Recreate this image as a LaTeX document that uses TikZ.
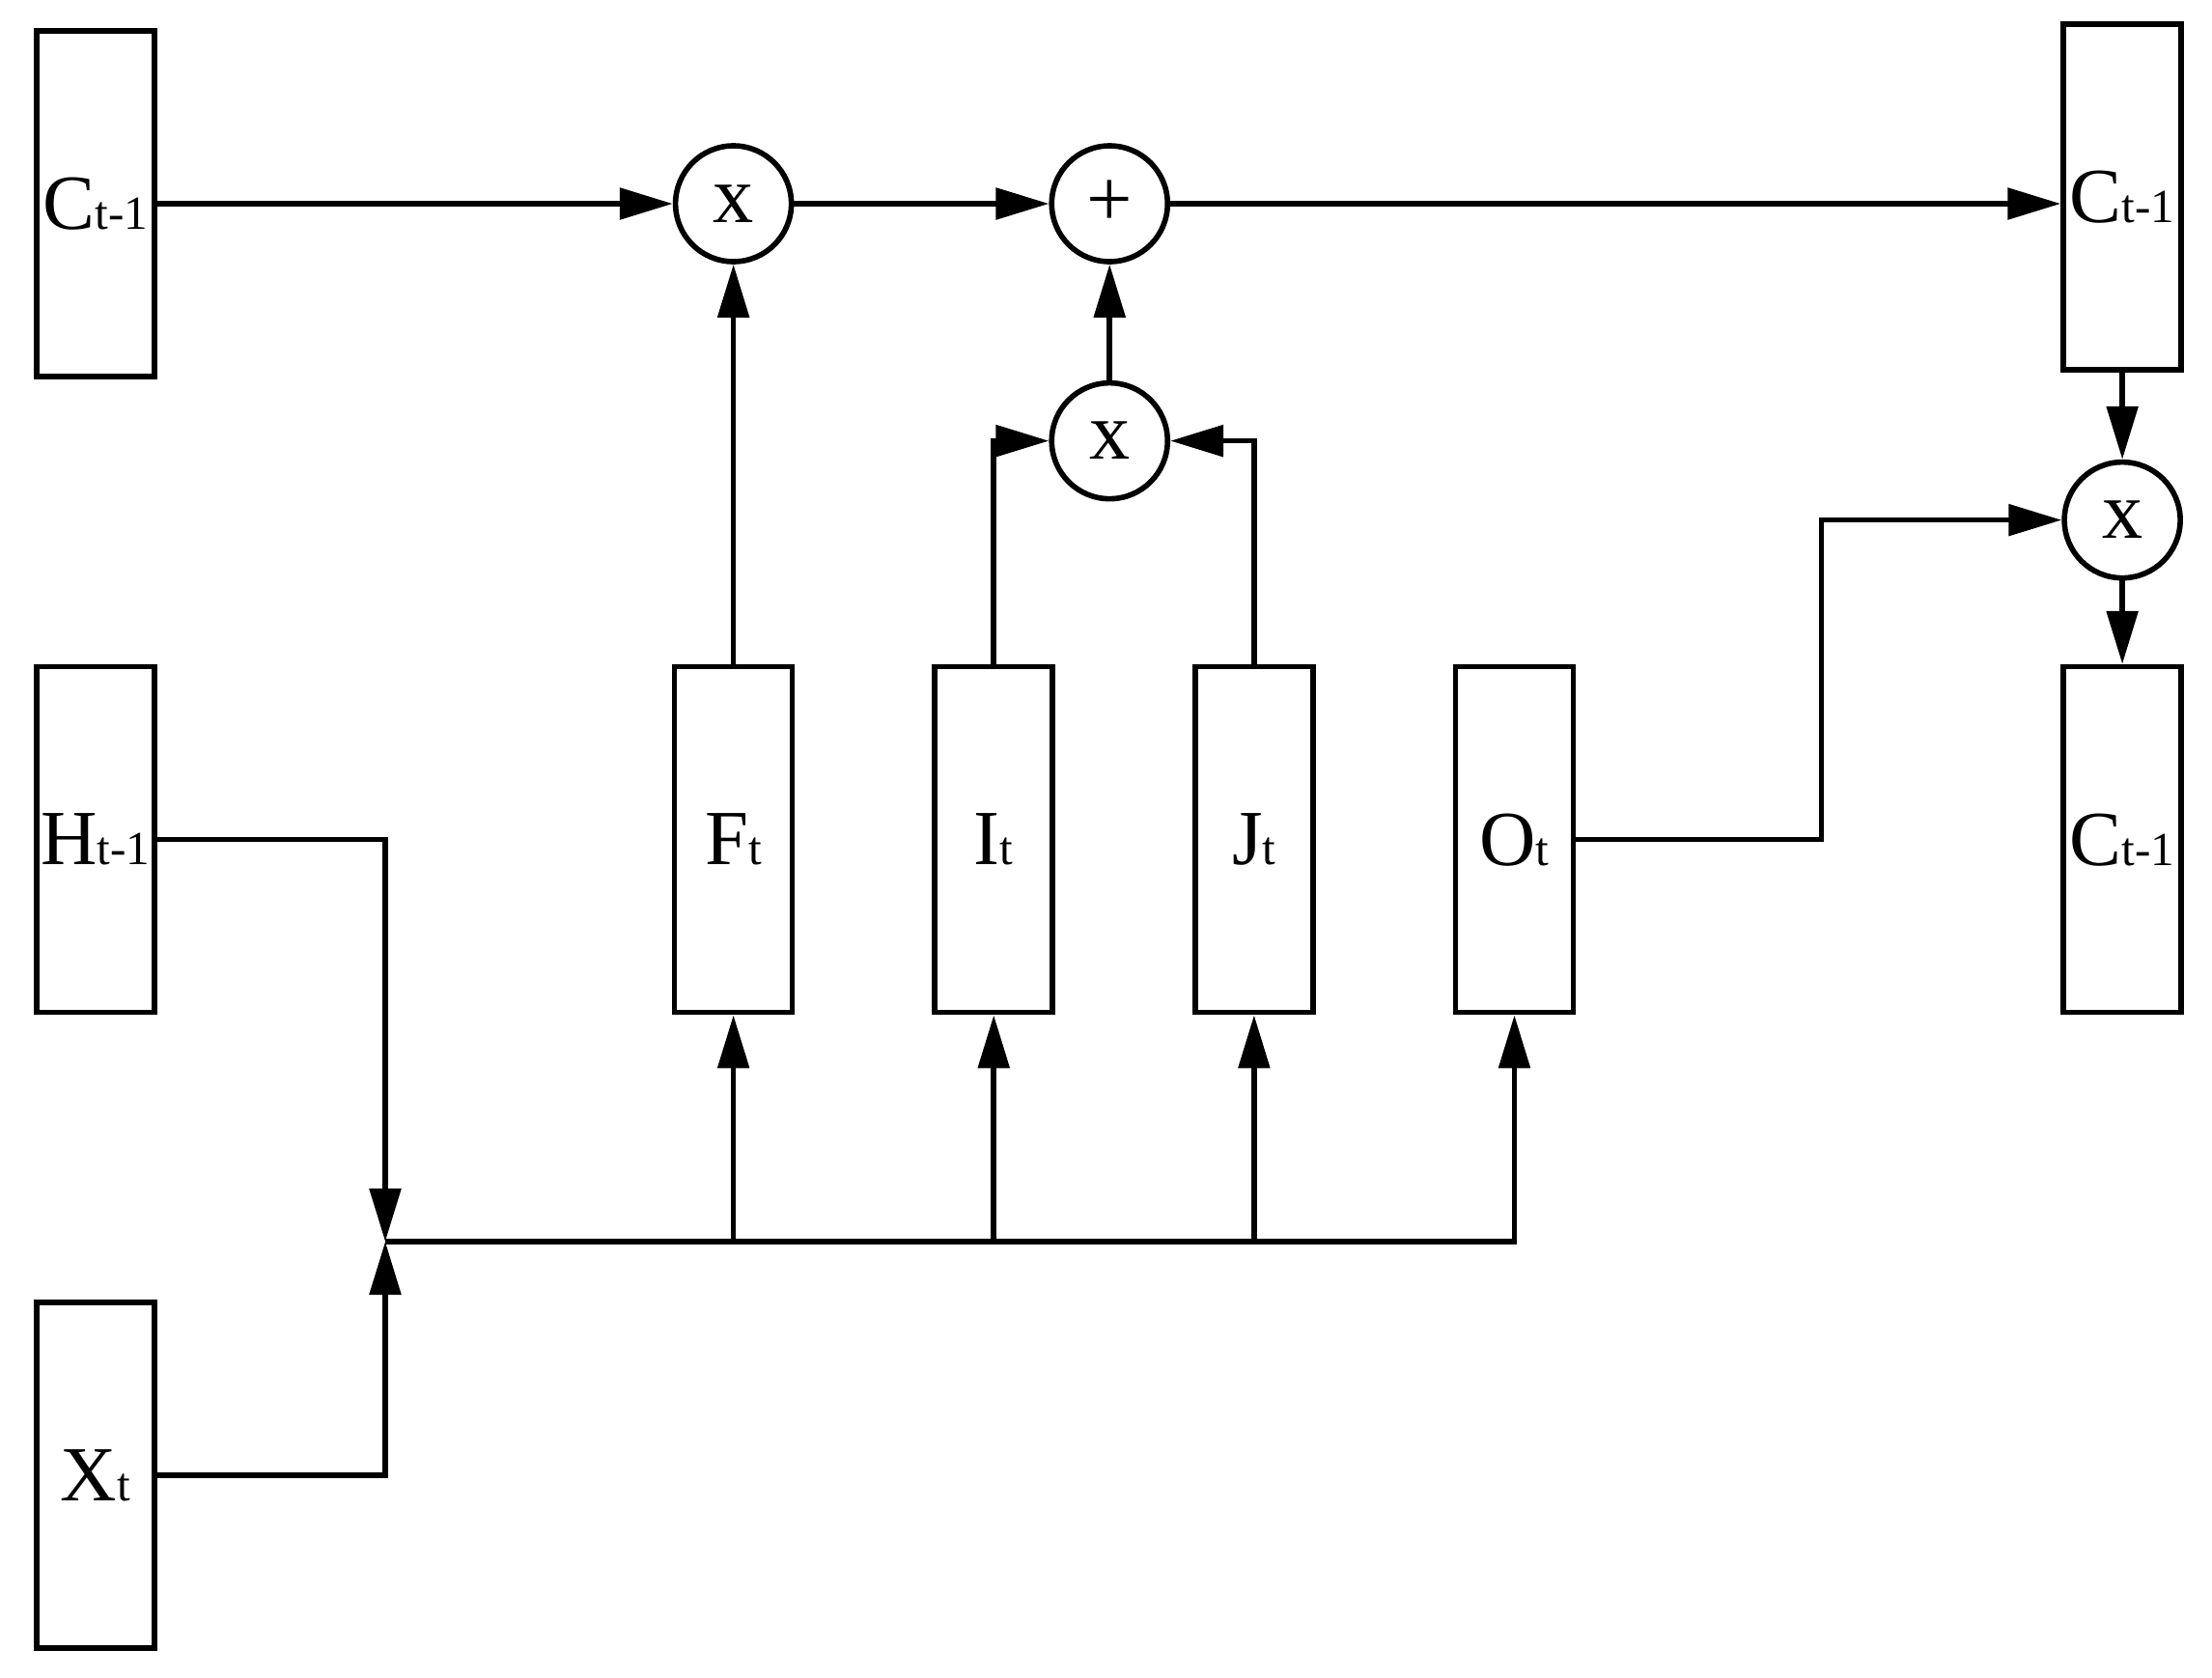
\documentclass[tikz,border=0pt]{standalone}
\usepackage{fontspec}
\setmainfont{Liberation Serif}
\usepackage{tikz}
\usetikzlibrary{arrows.meta,positioning}
\newcommand{\cellname}[2]{{\fontsize{23}{27}\selectfont #1}{\fontsize{14}{16}\selectfont #2}}
\tikzset{cellbox/.style={
    % The shape:
    rectangle,
    % The size:
    minimum width=12.2mm,
    minimum height=35.8mm,
    inner sep=0pt,
    % The border:
    line width=1.6pt,
    draw=black,
    },
    opcircle/.style={
    circle,
    minimum size=12mm,
    inner sep=0pt,
    line width=1.6pt,
    draw=black,
    font=\fontsize{24}{28}\selectfont,
    },
    flow/.style={
    line width=1.6pt,
    -{Triangle[length=5.5mm,width=3.2mm]},
    },
}

\begin{document}
\begin{tikzpicture}[node distance = 29.5mm and 14.2mm]
    \useasboundingbox (0,0) rectangle (22.91,-17.37);

    \node (cprev)  [cellbox] at (0.99,-2.11)        {\cellname{C}{t-1}};
    \node (hprev)  [cellbox,below=of cprev]          {\cellname{H}{t-1}};
    \node (xin)    [cellbox,below=of hprev]          {\cellname{X}{t}};

    \node (ft)     [cellbox,right=53.3mm of hprev]   {\cellname{F}{t}};
    \node (it)     [cellbox,right=of ft]             {\cellname{I}{t}};
    \node (jt)     [cellbox,right=of it]             {\cellname{J}{t}};
    \node (ot)     [cellbox,right=of jt]             {\cellname{O}{t}};

    \node (hout)   [cellbox,right=50.2mm of ot]      {\cellname{C}{t-1}};
    \node (ctop)   [cellbox,above=30.2mm of hout]    {\cellname{C}{t-1}};

    \node (mulf)   [opcircle] at (ft |- cprev)       {x};
    \node (addc)   [opcircle,right=26.4mm of mulf]   {+};
    \node (muli)   [opcircle,below=12mm of addc]     {x};
    \node (mulo)   [opcircle,below=9mm of ctop]      {x};

    \coordinate (join) at (3.99,-12.86);

    % cell state line
    \draw[flow] (cprev.east) -- (mulf);
    \draw[flow] (mulf) -- (addc);
    \draw[flow] (addc) -- (addc -| ctop.west);
    \draw[flow] (ft) -- (mulf);
    \draw[flow] (it.north) |- (muli);
    \draw[flow] (jt.north) |- (muli);
    \draw[flow] (muli) -- (addc);

    % output
    \draw[flow] (ctop) -- (mulo);
    \draw[flow] (mulo) -- (hout);
    \draw[flow] (ot.east) -- ++(2.54,0) |- (mulo);

    % inputs
    \draw[flow] (hprev.east) -| (join);
    \draw[flow] (xin.east) -| (join);
    \foreach \g in {ft,it,jt,ot}
      \draw[flow] (join) -| (\g.south);
\end{tikzpicture}
\end{document}
